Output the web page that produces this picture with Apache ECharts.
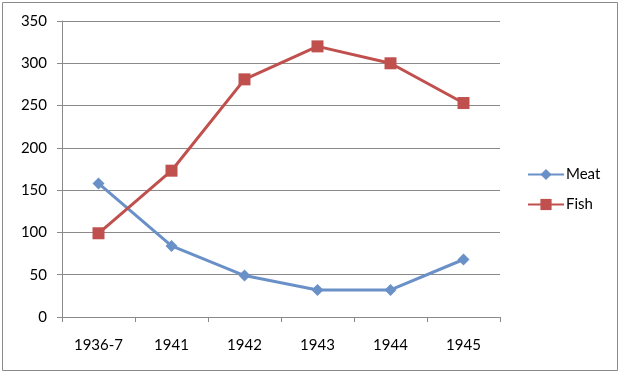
<!DOCTYPE html>
<html>
<head>
<meta charset="utf-8">
<script src="https://cdn.jsdelivr.net/npm/echarts@6/dist/echarts.min.js"></script>
<style>
html,body{margin:0;padding:0;background:#fff;}
#c{width:620px;height:374px;}
</style>
</head>
<body>
<div id="c"></div>
<script>
var categories = ['1936-7', '1941', '1942', '1943', '1944', '1945'];
var meat = [158, 84, 49, 32, 32, 68];
var fish = [99, 173, 281, 320, 300, 253];
var yTicks = { min: 0, max: 350, interval: 50 };

var chart = echarts.init(document.getElementById('c'));
var font = 'Lato, "Open Sans", sans-serif';
chart.setOption({
  animation: false,
  backgroundColor: '#fff',
  textStyle: { fontFamily: font },
  graphic: [{
    type: 'rect',
    shape: { x: 2.5, y: 2.5, width: 615, height: 368 },
    style: { fill: 'none', stroke: '#8a8a8a', lineWidth: 1 },
    silent: true
  }],
  grid: { left: 62, right: 120, top: 21, bottom: 57 },
  legend: {
    orient: 'vertical',
    left: 522,
    top: 162,
    itemWidth: 36,
    itemHeight: 14,
    itemGap: 15,
    textStyle: { fontFamily: font, fontSize: 15, color: '#000', padding: [0, 0, 0, -3] },
    data: ['Meat', 'Fish']
  },
  xAxis: {
    type: 'category',
    data: categories,
    boundaryGap: true,
    axisLine: { lineStyle: { color: '#8a8a8a', width: 1 } },
    axisTick: { show: true, length: 5, lineStyle: { color: '#8a8a8a' } },
    axisLabel: { margin: 21, fontSize: 15, color: '#000', fontFamily: font }
  },
  yAxis: {
    type: 'value',
    min: yTicks.min,
    max: yTicks.max,
    interval: yTicks.interval,
    axisLine: { show: true, lineStyle: { color: '#8a8a8a', width: 1 } },
    axisTick: { show: true, length: 5, lineStyle: { color: '#8a8a8a' } },
    axisLabel: { margin: 15, fontSize: 15, color: '#000', fontFamily: font },
    splitLine: { show: true, lineStyle: { color: '#8a8a8a', width: 1 } }
  },
  series: [
    {
      name: 'Meat',
      type: 'line',
      data: meat,
      symbol: 'diamond',
      symbolSize: 12,
      lineStyle: { color: '#6a90c8', width: 3 },
      itemStyle: { color: '#6a90c8' }
    },
    {
      name: 'Fish',
      type: 'line',
      data: fish,
      symbol: 'rect',
      symbolSize: 12,
      lineStyle: { color: '#c0504d', width: 3 },
      itemStyle: { color: '#c0504d' }
    }
  ]
});
</script>
</body>
</html>
